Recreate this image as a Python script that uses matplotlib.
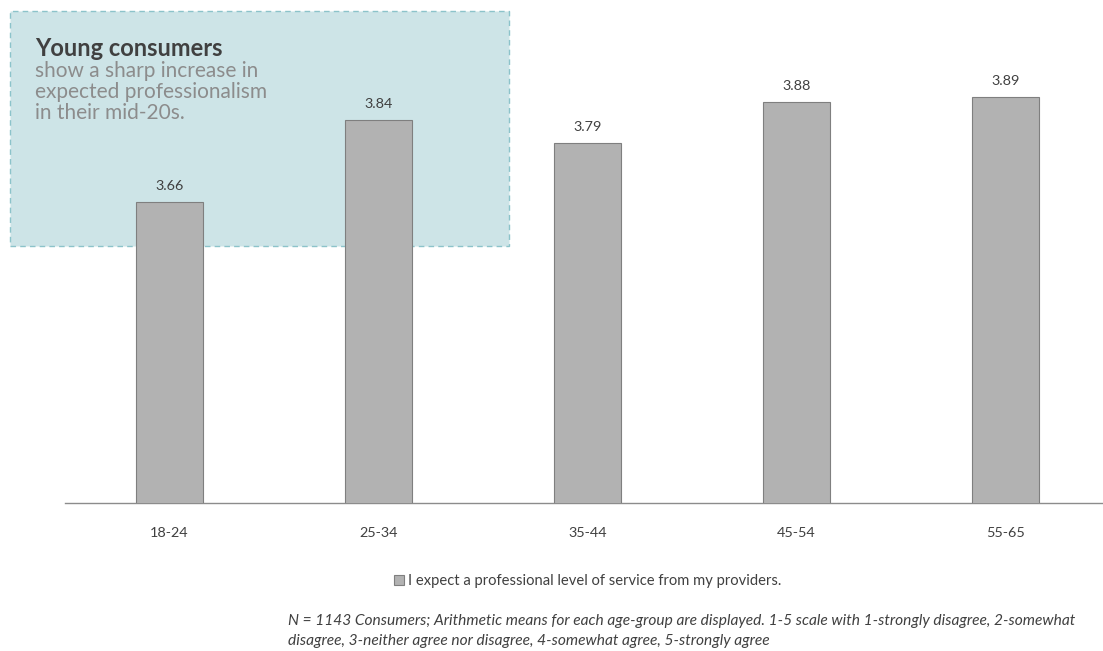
import numpy as np
import matplotlib.pyplot as plt
from matplotlib.patches import Rectangle, Patch

# Dados: médias por faixa etária
age_groups = ["18-24", "25-34", "35-44", "45-54", "55-65"]
means = [3.66, 3.84, 3.79, 3.88, 3.89]
series_label = "I expect a professional level of service from my providers."
box_title = "Young consumers"
box_lines = ["show a sharp increase in", "expected professionalism", "in their mid-20s."]
footnote_lines = [
    "N = 1143 Consumers; Arithmetic means for each age-group are displayed. 1-5 scale with 1-strongly disagree, 2-somewhat",
    "disagree, 3-neither agree nor disagree, 4-somewhat agree, 5-strongly agree",
]

plt.rcParams['font.family'] = ['Lato', 'DejaVu Sans']

W, H = 1103, 651
fig = plt.figure(figsize=(W / 100, H / 100), dpi=100)
ax = fig.add_axes([65 / W, (H - 503) / H, (W - 65) / W, 456 / H])
ax.patch.set_visible(False)

x = np.arange(len(age_groups))
ax.bar(x, means, width=0.316, color="#b2b2b2", edgecolor="#7f7f7f",
       linewidth=0.8, zorder=3)

for xi, v in zip(x, means):
    ax.text(xi, v + 0.022, f"{v:.2f}", ha="center", va="bottom",
            fontsize=10.4, color="#404040", zorder=4)

ax.set_ylim(3.0, 4.0)
ax.set_xlim(-0.5, -0.5 + (W - 65) / 209)
ax.set_xticks(x)
ax.set_xticklabels(age_groups, fontsize=10.4, color="#404040")
ax.tick_params(axis="x", length=0, pad=17)
ax.set_yticks([])
for s in ["top", "right", "left"]:
    ax.spines[s].set_visible(False)
ax.spines["bottom"].set_color("#8c8c8c")
ax.spines["bottom"].set_linewidth(1)

# Caixa de destaque (atrás das barras)
box = Rectangle((10 / W, 1 - 246 / H), 499 / W, 235 / H, transform=fig.transFigure,
                facecolor="#cde4e7", edgecolor="#8cc3ca", linestyle=(0, (4, 3)),
                linewidth=1, zorder=1, clip_on=False)
ax.add_patch(box)
fig.text(35 / W, 1 - 48 / H, box_title, fontsize=17, fontweight="bold",
         color="#404040", ha="left", va="center")
for i, line in enumerate(box_lines):
    fig.text(35 / W, 1 - (71 + 21 * i) / H, line, fontsize=15, color="#8c8c8c",
             ha="left", va="center")

# Legenda
leg_handle = Patch(facecolor="#b2b2b2", edgecolor="#7f7f7f", linewidth=0.8)
fig.legend([leg_handle], [series_label], loc="center", bbox_to_anchor=(588 / W, 1 - 581 / H),
           frameon=False, fontsize=10.6, handlelength=0.65, handleheight=0.65,
           handletextpad=0.3, labelcolor="#404040")

for i, line in enumerate(footnote_lines):
    fig.text(288 / W, 1 - (621 + 20 * i) / H, line, fontsize=11.2, style="italic",
             color="#404040", ha="left", va="center")

plt.savefig("out.png", dpi=100)
